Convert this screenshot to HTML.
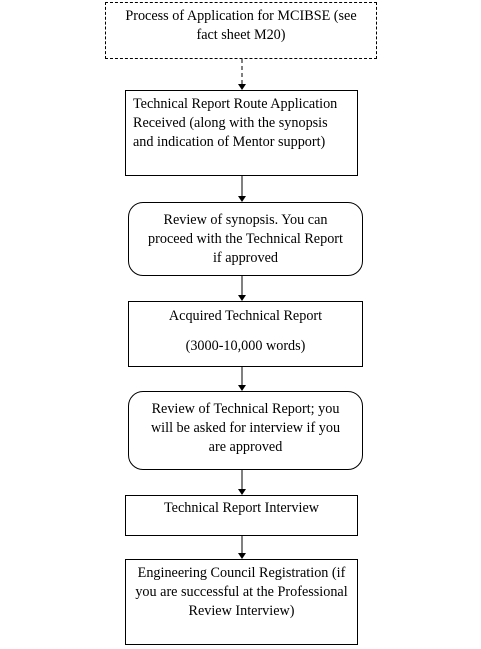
<!DOCTYPE html>
<html><head><style>
body{margin:0;background:#fff;width:481px;height:649px;overflow:hidden;position:relative;font-family:"Liberation Serif",serif;font-size:14.2px;color:#000}
.b{position:absolute;box-sizing:border-box;border:1px solid #000;background:#fff}
.t{position:absolute;white-space:nowrap;line-height:19px}
.c{text-align:center}
</style></head><body>
<svg width="481" height="649" style="position:absolute;left:0;top:0">
<line x1="242" y1="59" x2="242" y2="84" stroke="#000" stroke-dasharray="4,3"/>
<polygon points="238,84 246,84 242,90" fill="#000"/>
<g stroke="#000"><line x1="242" y1="176" x2="242" y2="196"/><line x1="242" y1="276" x2="242" y2="295"/><line x1="242" y1="367" x2="242" y2="385"/><line x1="242" y1="470" x2="242" y2="489"/><line x1="242" y1="536" x2="242" y2="553"/></g>
<g fill="#000"><polygon points="238,196 246,196 242,202"/><polygon points="238,295 246,295 242,301"/><polygon points="238,385 246,385 242,391"/><polygon points="238,489 246,489 242,495"/><polygon points="238,553 246,553 242,559"/></g>
</svg>
<div class="b" style="left:105px;top:2px;width:272px;height:57px;border-style:dashed"></div>
<div class="t c" style="left:105px;top:7px;width:272px">Process of Application for MCIBSE (see<br>fact sheet M20)</div>
<div class="b" style="left:125px;top:90px;width:233px;height:86px"></div>
<div class="t" style="left:133px;top:95px">Technical Report Route Application<br>Received (along with the synopsis<br>and indication of Mentor support)</div>
<div class="b" style="left:128px;top:202px;width:235px;height:74px;border-radius:15px"></div>
<div class="t c" style="left:128px;top:211px;width:235px">Review of synopsis. You can<br>proceed with the Technical Report<br>if approved</div>
<div class="b" style="left:128px;top:301px;width:235px;height:66px"></div>
<div class="t c" style="left:128px;top:307px;width:235px">Acquired Technical Report</div>
<div class="t c" style="left:128px;top:337px;width:235px">(3000-10,000 words)</div>
<div class="b" style="left:128px;top:391px;width:235px;height:79px;border-radius:15px"></div>
<div class="t c" style="left:128px;top:400px;width:235px">Review of Technical Report; you<br>will be asked for interview if you<br>are approved</div>
<div class="b" style="left:125px;top:495px;width:233px;height:41px"></div>
<div class="t c" style="left:125px;top:499px;width:233px">Technical Report Interview</div>
<div class="b" style="left:125px;top:559px;width:233px;height:86px"></div>
<div class="t c" style="left:125px;top:564px;width:233px">Engineering Council Registration (if<br>you are successful at the Professional<br>Review Interview)</div>
</body></html>
